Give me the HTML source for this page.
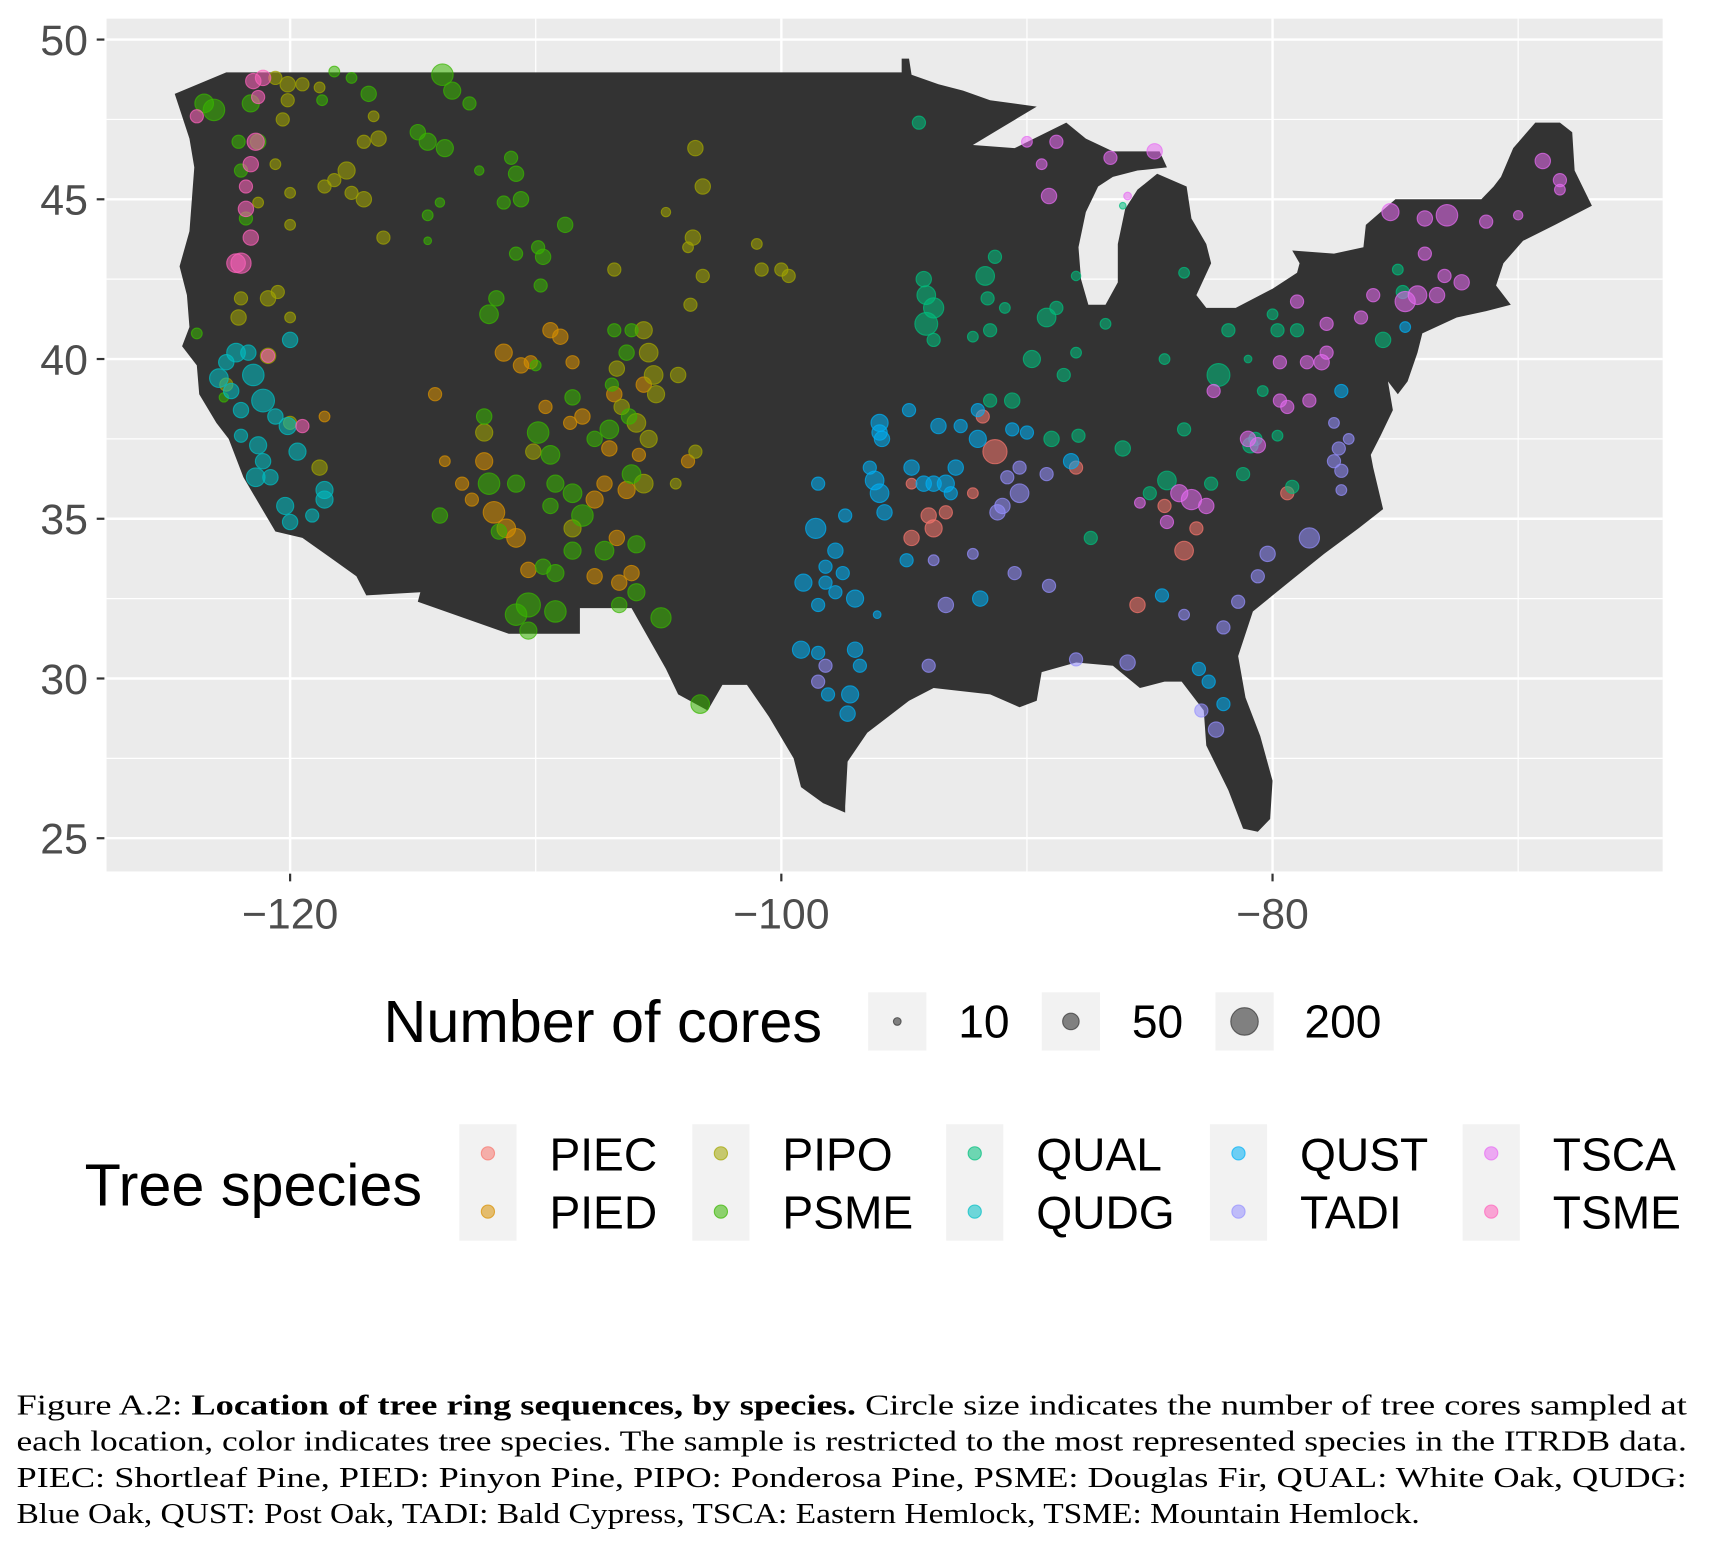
<!DOCTYPE html>
<html><head><meta charset="utf-8">
<style>
html,body{margin:0;padding:0;background:#fff;}
svg{display:block;}
</style></head>
<body>
<svg id="chart" xmlns="http://www.w3.org/2000/svg" width="1722" height="1566" viewBox="0 0 1567 1425" preserveAspectRatio="none">
<rect x="0" y="0" width="1567" height="1425" fill="#fff"/>
<rect x="97" y="17" width="1416" height="776" fill="#ebebeb"/>
<g id="grid"></g>
<g id="map"></g>
<g id="points"></g>
<g id="axes" font-family="Liberation Sans, sans-serif" font-size="39" fill="#4d4d4d"></g>

<g font-family="Liberation Sans, sans-serif">
<text x="349" y="948" font-size="54" fill="#000">Number of cores</text>
<rect x="790" y="903" width="53" height="53" fill="#f2f2f2"/>
<circle cx="816.5" cy="929.5" r="3.5" fill="#333" fill-opacity="0.6" stroke="#333" stroke-opacity="0.7"/>
<text x="872" y="944" font-size="42">10</text>
<rect x="948" y="903" width="53" height="53" fill="#f2f2f2"/>
<circle cx="974.5" cy="929.5" r="7.5" fill="#333" fill-opacity="0.6" stroke="#333" stroke-opacity="0.7"/>
<text x="1030" y="944" font-size="42">50</text>
<rect x="1106" y="903" width="53" height="53" fill="#f2f2f2"/>
<circle cx="1132.5" cy="929.5" r="12.5" fill="#333" fill-opacity="0.6" stroke="#333" stroke-opacity="0.7"/>
<text x="1187" y="944" font-size="42">200</text>
</g>

<g id="spLegend" font-family="Liberation Sans, sans-serif">
<text x="77" y="1097" font-size="54" fill="#000">Tree species</text>
</g>

<g font-family="Liberation Serif, serif" font-size="26" fill="#000">
<text x="15" y="1287" textLength="1520" lengthAdjust="spacingAndGlyphs">Figure A.2: <tspan font-weight="bold">Location of tree ring sequences, by species.</tspan> Circle size indicates the number of tree cores sampled at</text>
<text x="15" y="1320" textLength="1520" lengthAdjust="spacingAndGlyphs">each location, color indicates tree species. The sample is restricted to the most represented species in the ITRDB data.</text>
<text x="15" y="1353" textLength="1520" lengthAdjust="spacingAndGlyphs">PIEC: Shortleaf Pine, PIED: Pinyon Pine, PIPO: Ponderosa Pine, PSME: Douglas Fir, QUAL: White Oak, QUDG:</text>
<text x="15" y="1386" textLength="1277" lengthAdjust="spacingAndGlyphs">Blue Oak, QUST: Post Oak, TADI: Bald Cypress, TSCA: Eastern Hemlock, TSME: Mountain Hemlock.</text>
</g>
</svg>

<script>
const xTicks = [-120, -100, -80];
const xMinor = [-130, -110, -90, -70];
const yTicks = [25, 30, 35, 40, 45, 50];
const yMinor = [27.5, 32.5, 37.5, 42.5, 47.5];
const speciesNames = ["PIEC","PIED","PIPO","PSME","QUAL","QUDG","QUST","TADI","TSCA","TSME"];
const speciesColors = ["#F8766D","#D89000","#A3A500","#39B600","#00BF7D","#00BFC4","#00B0F6","#9590FF","#E76BF3","#FF62BC"];

const usOutline = [[-124.7,48.3],[-122.6,48.97],[-95.1,48.97],[-95.1,49.4],[-94.8,49.4],[-94.7,48.9],[-93.6,48.6],[-92.6,48.4],[-91.5,48.1],[-89.6,47.9],[-92.2,46.7],[-90.5,46.6],[-88.4,47.4],[-87.6,46.9],[-86.5,46.5],[-84.6,46.5],[-84.3,46.0],[-85.5,45.9],[-86.5,45.7],[-87.1,45.4],[-87.6,44.6],[-87.9,43.5],[-87.8,42.5],[-87.5,41.7],[-86.8,41.7],[-86.3,42.4],[-86.3,43.6],[-86.0,44.7],[-85.5,45.3],[-84.7,45.8],[-83.5,45.4],[-83.3,44.4],[-82.7,43.6],[-82.5,43.0],[-83.1,42.0],[-82.7,41.6],[-81.5,41.6],[-80.0,42.2],[-79.0,42.7],[-78.9,43.0],[-79.2,43.4],[-77.5,43.3],[-76.3,43.5],[-76.2,44.2],[-75.0,45.0],[-71.5,45.0],[-71.0,45.4],[-70.7,45.7],[-70.2,46.6],[-69.3,47.4],[-68.3,47.4],[-67.8,47.1],[-67.7,45.9],[-67.0,44.8],[-68.5,44.2],[-69.8,43.7],[-70.6,43.0],[-70.9,42.3],[-70.3,41.7],[-71.3,41.5],[-72.5,41.3],[-73.9,40.8],[-74.1,40.2],[-74.5,39.3],[-74.9,38.9],[-75.3,39.3],[-75.1,38.4],[-75.6,37.6],[-76.0,37.0],[-75.9,36.6],[-75.5,35.3],[-76.5,34.7],[-77.9,33.9],[-79.2,33.1],[-80.8,32.1],[-81.4,30.7],[-81.1,29.4],[-80.5,28.2],[-80.0,26.8],[-80.1,25.6],[-80.6,25.2],[-81.2,25.3],[-81.8,26.5],[-82.7,27.9],[-82.8,29.0],[-83.7,29.9],[-84.4,29.9],[-85.4,29.7],[-86.5,30.4],[-88.0,30.5],[-89.4,30.2],[-89.6,29.3],[-90.3,29.1],[-91.5,29.5],[-93.8,29.7],[-94.8,29.3],[-96.5,28.3],[-97.3,27.4],[-97.4,26.0],[-97.4,25.8],[-98.3,26.1],[-99.2,26.6],[-99.5,27.5],[-100.5,28.8],[-101.4,29.8],[-102.4,29.8],[-103.0,29.0],[-104.2,29.5],[-104.7,30.3],[-106.1,32.2],[-108.2,32.2],[-108.2,31.4],[-111.1,31.4],[-114.8,32.4],[-114.7,32.7],[-116.9,32.6],[-117.3,33.2],[-118.4,33.8],[-119.5,34.4],[-120.6,34.6],[-121.9,36.3],[-122.5,37.5],[-123.0,38.0],[-123.7,38.9],[-123.8,39.8],[-124.4,40.4],[-124.1,41.0],[-124.2,42.0],[-124.5,42.9],[-124.1,44.0],[-123.9,46.0],[-124.1,46.9],[-124.7,48.3]];

// [lon, lat, cores]
const PIEC_pts = [[-91.8,38.2,30],[-91.3,37.1,100],[-94.7,36.1,20],[-94.0,35.1,40],[-93.8,34.7,50],[-94.7,34.4,40],[-93.3,35.2,30],[-92.2,35.8,20],[-88.0,36.6,30],[-84.4,35.4,30],[-83.1,34.7,30],[-83.6,34.0,60],[-85.5,32.3,40],[-79.4,35.8,30]];
const PIED_pts = [[-118.6,38.2,20],[-114.1,38.9,30],[-113.7,36.8,20],[-113.0,36.1,30],[-112.1,36.8,50],[-111.7,35.2,80],[-111.2,34.7,60],[-110.8,34.4,60],[-110.3,33.4,40],[-111.3,40.2,50],[-110.6,39.8,40],[-110.2,39.9,30],[-109.4,40.9,40],[-109.0,40.7,40],[-108.5,39.9,30],[-108.1,38.2,40],[-108.6,38.0,30],[-106.8,38.9,40],[-105.6,39.2,40],[-106.3,35.9,50],[-107.2,36.1,40],[-107.6,35.6,50],[-107.6,33.2,40],[-106.7,34.4,40],[-106.6,33.0,40],[-106.1,33.3,40],[-103.8,36.8,30],[-112.6,35.6,30],[-109.6,38.5,30],[-107.0,37.2,40],[-105.8,37.0,30]];
const PIPO_pts = [[-120.6,48.8,30],[-120.6,46.1,20],[-120.3,47.5,30],[-120.1,48.1,30],[-120.1,48.6,40],[-119.5,48.6,30],[-118.8,48.5,20],[-116.6,47.6,20],[-116.4,46.9,40],[-117.0,46.8,30],[-117.7,45.9,50],[-118.2,45.6,30],[-118.6,45.4,30],[-117.5,45.2,30],[-117.0,45.0,40],[-120.0,45.2,20],[-120.0,44.2,20],[-116.2,43.8,30],[-103.5,46.6,40],[-103.2,45.4,40],[-104.7,44.6,15],[-103.6,43.8,40],[-103.8,43.5,20],[-103.2,42.6,30],[-101.0,43.6,20],[-100.8,42.8,30],[-100.0,42.8,30],[-99.7,42.6,30],[-103.7,41.7,30],[-106.8,42.8,30],[-122.1,41.3,40],[-122.0,41.9,30],[-120.9,41.9,40],[-120.5,42.1,30],[-120.0,41.3,20],[-120.9,40.1,40],[-120.0,38.0,30],[-118.8,36.6,40],[-112.1,37.7,50],[-106.5,38.5,40],[-105.6,40.9,50],[-105.4,40.2,60],[-105.2,39.5,60],[-105.1,38.9,50],[-106.7,39.7,40],[-105.9,38.0,60],[-105.4,37.5,50],[-105.6,36.1,60],[-110.1,37.1,40],[-108.5,34.7,50],[-104.3,36.1,20],[-103.5,37.1,30],[-104.2,39.5,40],[-122.6,39.2,30],[-121.3,44.9,20]];
const PSME_pts = [[-123.5,48.0,60],[-123.1,47.8,80],[-121.6,48.0,50],[-121.8,44.4,30],[-122.0,45.9,30],[-122.1,46.8,30],[-121.3,46.8,40],[-118.7,48.1,20],[-118.2,49.0,20],[-117.5,48.8,20],[-116.8,48.3,40],[-114.8,47.1,40],[-114.4,46.8,50],[-113.7,46.6,50],[-113.8,48.9,80],[-113.4,48.4,50],[-112.7,48.0,30],[-114.4,44.5,20],[-113.9,44.9,15],[-114.4,43.7,10],[-112.3,45.9,15],[-111.0,46.3,30],[-110.8,45.8,40],[-110.6,45.0,40],[-111.3,44.9,30],[-110.8,43.3,30],[-109.9,43.5,30],[-109.7,43.2,40],[-108.8,44.2,40],[-109.8,42.3,30],[-111.6,41.9,40],[-111.9,41.4,60],[-123.8,40.8,20],[-122.7,38.8,15],[-113.9,35.1,40],[-112.1,38.2,40],[-111.9,36.1,80],[-111.5,34.6,40],[-110.0,39.8,20],[-108.5,38.8,40],[-107.6,37.5,40],[-107.0,37.8,60],[-106.8,40.9,30],[-106.1,40.9,30],[-106.3,40.2,40],[-106.1,36.4,60],[-108.1,35.1,80],[-108.5,35.8,60],[-109.2,36.1,50],[-109.4,37.0,60],[-109.9,37.7,80],[-110.8,36.1,50],[-109.4,35.4,40],[-108.5,34.0,50],[-109.2,33.3,50],[-109.7,33.5,40],[-107.2,34.0,60],[-105.9,34.2,50],[-105.9,32.7,50],[-106.6,32.3,40],[-110.3,32.3,100],[-110.8,32.0,80],[-109.2,32.1,80],[-110.3,31.5,50],[-104.9,31.9,70],[-103.3,29.2,60],[-106.2,38.2,40],[-106.9,39.2,30]];
const QUAL_pts = [[-94.4,47.4,30],[-94.2,42.5,40],[-94.1,42.0,60],[-93.8,41.6,70],[-94.1,41.1,90],[-93.8,40.6,30],[-91.7,42.6,60],[-91.3,43.2,30],[-91.6,41.9,30],[-90.9,41.6,20],[-92.2,40.7,20],[-91.5,40.9,30],[-89.2,41.3,60],[-88.8,41.6,30],[-88.0,42.6,15],[-86.8,41.1,20],[-89.8,40.0,50],[-88.0,40.2,20],[-88.5,39.5,30],[-86.1,44.8,5],[-83.6,42.7,20],[-81.8,40.9,30],[-81.0,40.0,10],[-82.2,39.5,90],[-84.4,40.0,20],[-91.5,38.7,30],[-90.6,38.7,40],[-89.0,37.5,40],[-86.1,37.2,40],[-84.3,36.2,60],[-85.0,35.8,30],[-82.5,36.1,30],[-81.2,36.4,30],[-80.9,37.3,40],[-80.7,37.5,30],[-79.8,37.6,20],[-79.2,36.0,30],[-87.4,34.4,30],[-80.4,39.0,20],[-79.8,40.9,30],[-79.0,40.9,30],[-75.5,40.6,40],[-74.7,42.1,30],[-74.9,42.8,20],[-80.0,41.4,20],[-83.6,37.8,30],[-87.9,37.6,30]];
const QUDG_pts = [[-122.2,40.2,60],[-122.6,39.9,40],[-121.7,40.2,40],[-122.9,39.4,60],[-122.4,39.0,40],[-121.5,39.5,80],[-121.1,38.7,90],[-120.0,40.6,40],[-122.0,38.4,40],[-120.6,38.2,40],[-120.1,37.9,50],[-122.0,37.6,30],[-121.3,37.3,50],[-121.1,36.8,40],[-119.7,37.1,50],[-121.4,36.3,60],[-120.8,36.3,40],[-120.2,35.4,50],[-118.6,35.9,50],[-118.6,35.6,50],[-120.0,34.9,40],[-119.1,35.1,30]];
const QUST_pts = [[-94.8,38.4,30],[-96.0,38.0,50],[-96.0,37.7,40],[-95.9,37.5,40],[-96.4,36.6,30],[-96.2,36.2,60],[-96.0,35.8,60],[-95.8,35.2,40],[-94.7,36.6,40],[-94.2,36.1,40],[-93.8,36.1,40],[-93.3,36.1,50],[-92.9,36.6,40],[-93.6,37.9,40],[-92.7,37.9,30],[-92.0,37.5,50],[-92.0,38.4,30],[-93.1,35.8,30],[-98.5,36.1,30],[-97.4,35.1,30],[-98.6,34.7,70],[-97.8,34.0,40],[-98.2,33.5,30],[-97.5,33.3,30],[-99.1,33.0,50],[-98.2,33.0,30],[-97.8,32.7,30],[-97.0,32.5,50],[-98.5,32.3,30],[-96.1,32.0,10],[-99.2,30.9,50],[-98.5,30.8,30],[-97.0,30.9,40],[-96.8,30.4,30],[-98.1,29.5,30],[-97.2,29.5,50],[-97.3,28.9,40],[-94.9,33.7,30],[-91.9,32.5,40],[-88.2,36.8,40],[-90.0,37.7,30],[-90.6,37.8,30],[-77.2,39.0,30],[-74.6,41.0,20],[-83.0,30.3,30],[-82.6,29.9,30],[-82.0,29.2,30],[-84.5,32.6,30]];
const TADI_pts = [[-93.3,32.3,40],[-93.8,33.7,20],[-92.2,33.9,20],[-91.2,35.2,40],[-91.0,35.4,40],[-90.3,35.8,60],[-90.8,36.3,30],[-90.3,36.6,30],[-89.2,36.4,30],[-90.5,33.3,30],[-89.1,32.9,30],[-94.0,30.4,30],[-98.2,30.4,30],[-98.5,29.9,30],[-88.0,30.6,30],[-85.9,30.5,40],[-83.6,32.0,20],[-82.9,29.0,30],[-82.3,28.4,40],[-82.0,31.6,30],[-81.4,32.4,30],[-80.6,33.2,30],[-80.2,33.9,40],[-78.5,34.4,70],[-77.5,36.8,30],[-77.2,36.5,30],[-77.2,35.9,20],[-77.3,37.2,30],[-76.9,37.5,20],[-77.5,38.0,20]];
const TSCA_pts = [[-90.0,46.8,20],[-89.4,46.1,20],[-88.8,46.8,30],[-86.6,46.3,30],[-84.8,46.5,40],[-89.1,45.1,40],[-85.9,45.1,10],[-82.4,39.0,30],[-81.0,37.5,40],[-80.6,37.3,40],[-79.7,38.7,30],[-79.4,38.5,30],[-78.5,38.7,30],[-79.7,39.9,30],[-78.6,39.9,30],[-78.0,39.9,40],[-77.8,40.2,30],[-77.8,41.1,30],[-79.0,41.8,30],[-76.4,41.3,30],[-75.9,42.0,30],[-74.6,41.8,70],[-74.1,42.0,60],[-73.3,42.0,40],[-72.3,42.4,40],[-73.0,42.6,30],[-75.2,44.6,50],[-73.8,44.4,40],[-72.9,44.5,80],[-71.3,44.3,30],[-70.0,44.5,15],[-69.0,46.2,40],[-68.3,45.6,30],[-68.3,45.3,20],[-83.8,35.8,50],[-83.3,35.6,70],[-82.7,35.4,40],[-84.3,34.9,30],[-85.4,35.5,20],[-73.8,43.3,30]];
const TSME_pts = [[-123.8,47.6,30],[-121.5,48.7,40],[-121.1,48.8,40],[-121.4,46.8,50],[-121.6,46.1,40],[-121.8,45.4,30],[-121.8,44.7,40],[-122.2,43.0,60],[-122.0,43.0,70],[-121.6,43.8,40],[-120.9,40.1,30],[-119.5,37.9,30],[-121.3,48.2,30]];
const speciesPoints = [PIEC_pts,PIED_pts,PIPO_pts,PSME_pts,QUAL_pts,QUDG_pts,QUST_pts,TADI_pts,TSCA_pts,TSME_pts];

const NS = "http://www.w3.org/2000/svg";
const xScale = lon => 264 + (lon + 120) * 22.35;
const yScale = lat => 36 + (50 - lat) * 29.07;
const rScale = n => Math.max(3, 1.1 * Math.sqrt(n));
function mk(tag, attrs, parent) { const e = document.createElementNS(NS, tag); for (const k in attrs) e.setAttribute(k, attrs[k]); parent.appendChild(e); return e; }

const grid = document.getElementById('grid');
xMinor.forEach(v => { const x = xScale(v); if (x < 97 || x > 1513) return;
  const l = mk('line', {x1:x, x2:x, y1:17, y2:793, stroke:'#fff', 'stroke-width':1.1}, grid);
  
   });
yMinor.forEach(v => { const y = yScale(v);
  const l = mk('line', {x1:97, x2:1513, y1:y, y2:y, stroke:'#fff', 'stroke-width':1.1}, grid);
  
   });
xTicks.forEach(v => { const x = xScale(v);
  const l = mk('line', {x1:x, x2:x, y1:17, y2:793, stroke:'#fff', 'stroke-width':2.2}, grid);
  
   });
yTicks.forEach(v => { const y = yScale(v);
  const l = mk('line', {x1:97, x2:1513, y1:y, y2:y, stroke:'#fff', 'stroke-width':2.2}, grid);
  
   });

const map = document.getElementById('map');
const poly = mk('polygon', {points: usOutline.map(p => xScale(p[0]).toFixed(1) + ',' + yScale(p[1]).toFixed(1)).join(' '), fill:'#333333'}, map);



const pts = document.getElementById('points');
speciesPoints.forEach((arr, si) => {
  arr.forEach(p => {
    const c = mk('circle', {cx:xScale(p[0]).toFixed(1), cy:yScale(p[1]).toFixed(1), r:rScale(p[2]).toFixed(1), fill:speciesColors[si], 'fill-opacity':0.55, stroke:speciesColors[si], 'stroke-opacity':0.7, 'stroke-width':1}, pts);
    
    
  });
});

const axes = document.getElementById('axes');
yTicks.forEach(v => { const y = yScale(v);
  const t = mk('line', {x1:88, x2:95, y1:y, y2:y, stroke:'#333', 'stroke-width':2}, axes);
  
  
  const tx = mk('text', {x:80, y:y + 14, 'text-anchor':'end'}, axes);
  tx.textContent = String(v);
  
   });
xTicks.forEach(v => { const x = xScale(v);
  const t = mk('line', {x1:x, x2:x, y1:795, y2:802, stroke:'#333', 'stroke-width':2}, axes);
  
  
  const tx = mk('text', {x:x, y:845, 'text-anchor':'middle'}, axes);
  tx.textContent = '\u2212' + String(Math.abs(v));
  
   });

const leg = document.getElementById('spLegend');
const colX = [418, 630, 861, 1101, 1331];
speciesNames.forEach((name, i) => {
  const col = Math.floor(i / 2), row = i % 2;
  const bx = colX[col], by = 1023 + row * 53;
  const r = mk('rect', {x:bx, y:by, width:52, height:53, fill:'#f2f2f2'}, leg);
  
  
  const c = mk('circle', {cx:bx + 26, cy:by + 26.5, r:6, fill:speciesColors[i], 'fill-opacity':0.55, stroke:speciesColors[i], 'stroke-opacity':0.7}, leg);
  
  
  const t = mk('text', {x:bx + 82, y:by + 42, 'font-size':42, fill:'#000'}, leg);
  t.textContent = name;
  
  
});
</script>
</body></html>
